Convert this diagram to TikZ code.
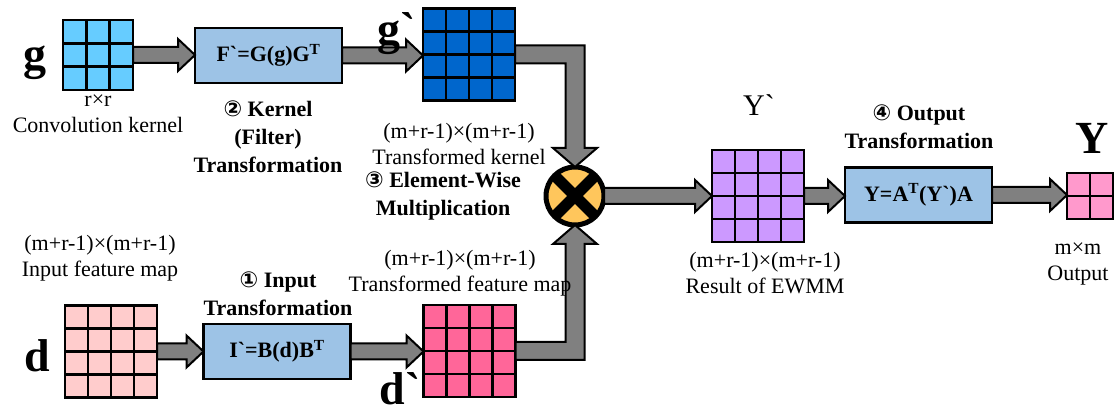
\documentclass[tikz,border=0pt]{standalone}
\usepackage{fontspec}
\setmainfont{Liberation Serif}
\newfontfamily\symf{DejaVu Sans}
\usetikzlibrary{calc}
\definecolor{gA}{HTML}{66CCFF}
\definecolor{gB}{HTML}{0066CC}
\definecolor{dA}{HTML}{FFCCCC}
\definecolor{dB}{HTML}{FF6699}
\definecolor{yA}{HTML}{CC99FF}
\definecolor{yB}{HTML}{FF99CC}
\definecolor{boxblue}{HTML}{9DC3E6}
\definecolor{arrgray}{HTML}{808080}
\definecolor{mulor}{HTML}{FFC65C}
\newcommand{\bq}{\textasciigrave}
\newcommand{\mgrid}[6]{%
  \node[gridbox, fill=#6, minimum size=#4pt] (#1) at (#2,#3) {};
  \pgfmathtruncatemacro{\nm}{#5-1}%
  \foreach \i in {1,...,\nm}{%
    \draw[gridline] ($(#1.north west)!\i/#5!(#1.north east)$) -- ($(#1.south west)!\i/#5!(#1.south east)$);
    \draw[gridline] ($(#1.north west)!\i/#5!(#1.south west)$) -- ($(#1.north east)!\i/#5!(#1.south east)$);
  }%
}
\newcommand{\harrow}[2]{%
  \draw[arr] let \p1=(#1), \p2=(#2) in
    (\x1,\y1+8pt) -- (\x2-17pt,\y1+8pt) -- (\x2-17pt,\y1+16pt) -- (\x2,\y1)
    -- (\x2-17pt,\y1-16pt) -- (\x2-17pt,\y1-8pt) -- (\x1,\y1-8pt) -- cycle;}
\begin{document}
\begin{tikzpicture}[x=1pt,y=-1pt,
  gridbox/.style={draw=black, line width=2.5pt, inner sep=0pt, outer sep=0pt},
  gridline/.style={draw=black, line width=2.5pt},
  arr/.style={draw=black, fill=arrgray, line width=2pt, line join=miter},
  fbox/.style={draw=black, fill=boxblue, line width=2.5pt, inner sep=0pt, outer sep=0pt,
    minimum width=147pt, minimum height=55pt, font=\fontsize{22}{25}\selectfont\bfseries},
  lbl/.style={font=\fontsize{22}{26}\selectfont, align=center, inner sep=0pt},
  blbl/.style={font=\fontsize{22}{28}\selectfont\bfseries, align=center, inner sep=0pt},
  big/.style={font=\fontsize{46}{50}\selectfont\bfseries, inner sep=0pt},
  xline/.style={draw=black, line width=11pt}]
\useasboundingbox (0,0) rectangle (1116,419);

% grids
\mgrid{g}{98}{55}{70}{3}{gA}
\mgrid{gp}{469}{54.5}{92}{4}{gB}
\mgrid{d}{111}{351.5}{92}{4}{dA}
\mgrid{dp}{469.5}{351}{92}{4}{dB}
\mgrid{yp}{758}{196}{92}{4}{yA}
\mgrid{y}{1090}{196}{46}{2}{yB}

% transformation boxes
\node[fbox] (F) at (268.5,55.5) {F\bq{}=G(g)G\textsuperscript{T}};
\node[fbox] (I) at (277,351.5) {I\bq{}=B(d)B\textsuperscript{T}};
\node[fbox] (Y) at (918.5,195) {Y=A\textsuperscript{T}(Y\bq{})A};

% multiplication
\node[circle, draw=black, line width=5pt, fill=mulor, minimum size=58pt, inner sep=0pt, outer sep=0pt] (mul) at (575,196) {};
\draw[xline] ($(mul.center)+(45:28pt)$) -- ($(mul.center)+(225:28pt)$);
\draw[xline] ($(mul.center)+(135:28pt)$) -- ($(mul.center)+(315:28pt)$);

% straight arrows
\harrow{g.east}{F.west}
\harrow{F.east}{gp.west}
\harrow{d.east}{I.west}
\harrow{I.east}{dp.west}
\harrow{mul.east}{yp.west}
\harrow{yp.east}{Y.west}
\harrow{Y.east}{y.west}

% elbow arrows
\draw[arr] let \p1=(gp.east), \p2=(mul.north) in
  (\x1,\y1+9pt) -- (\x2+9.5pt,\y1+9pt) -- (\x2+9.5pt,\y2+19pt) -- (\x2+22pt,\y2+19pt)
  -- (\x2,\y2) -- (\x2-22pt,\y2+19pt) -- (\x2-9.5pt,\y2+19pt) -- (\x2-9.5pt,\y1-9pt)
  -- (\x1,\y1-9pt) -- cycle;
\draw[arr] let \p1=(dp.east), \p2=(mul.south) in
  (\x1,\y1-9pt) -- (\x2+9.5pt,\y1-9pt) -- (\x2+9.5pt,\y2-19pt) -- (\x2+22pt,\y2-19pt)
  -- (\x2,\y2) -- (\x2-22pt,\y2-19pt) -- (\x2-9.5pt,\y2-19pt) -- (\x2-9.5pt,\y1+9pt)
  -- (\x1,\y1+9pt) -- cycle;

% labels
\node[big] (lg) at (35,63) {g};
\node[big] (lgp) at (397,34) {g\bq};
\node[big] (ld) at (37,356) {d};
\node[big] (ldp) at (400,389) {d\bq};
\node[big] (lY) at (1092,138) {Y};
\node[font=\fontsize{30}{34}\selectfont, inner sep=0pt] (lYp) at (759,105) {Y\bq};

\node[lbl] (tg) at (98,114) {r×r\\Convolution kernel};
\node[blbl] (tk) at (268,137) {{\symf ②} Kernel\\(Filter)\\Transformation};
\node[lbl] (tgp) at (459,144) {(m+r-1)×(m+r-1)\\Transformed kernel};
\node[blbl] (tm) at (443,196) {{\symf ③} Element-Wise\\Multiplication};
\node[lbl] (td) at (100,258) {(m+r-1)×(m+r-1)\\Input feature map};
\node[blbl] (ti) at (278,294) {{\symf ①} Input\\Transformation};
\node[lbl] (tdp) at (460,273) {(m+r-1)×(m+r-1)\\Transformed feature map};
\node[lbl] (typ) at (765,273) {(m+r-1)×(m+r-1)\\Result of EWMM};
\node[blbl] (to) at (919,127) {{\symf ④} Output\\Transformation};
\node[lbl] (ty) at (1078,264) {m×m\\Output};
\end{tikzpicture}
\end{document}
